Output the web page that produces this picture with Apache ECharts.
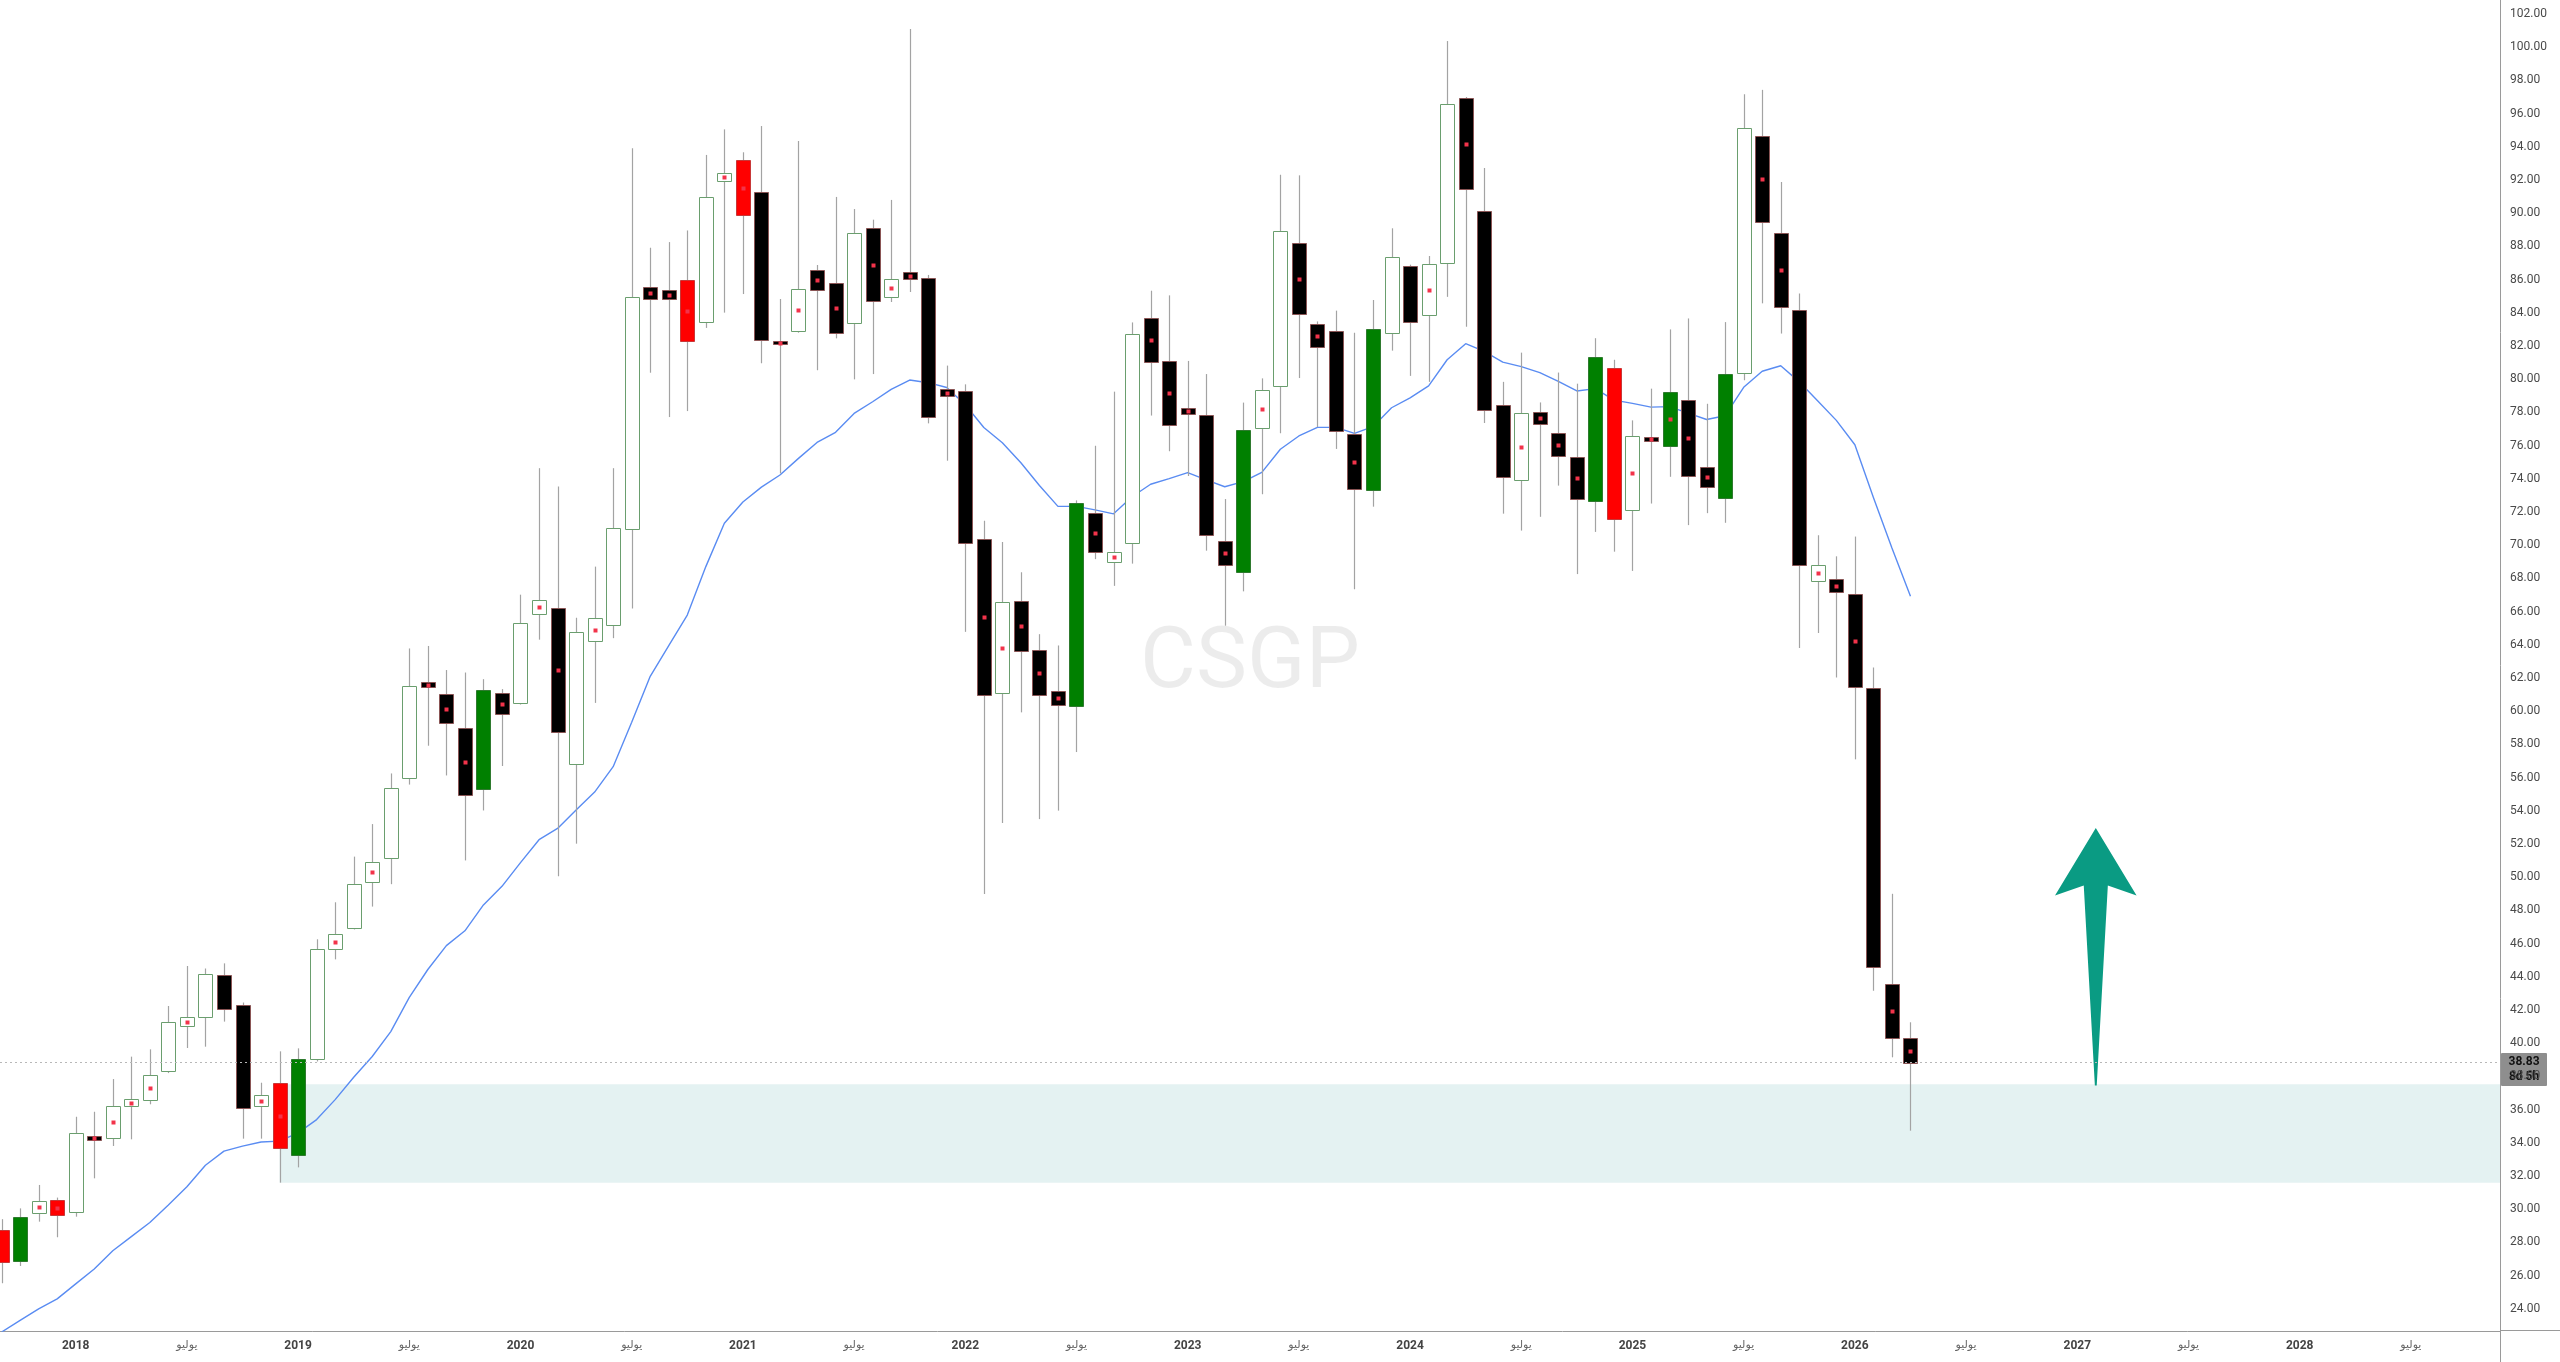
<!DOCTYPE html>
<html><head><meta charset="utf-8">
<script src="https://cdn.jsdelivr.net/npm/echarts@6/dist/echarts.min.js"></script>
<style>html,body{margin:0;padding:0;background:#fff}#c{width:2560px;height:1362px}</style>
</head><body><div id="c"></div><script>
// ---- data ----
const months = [
 '2017-09','2017-10','2017-11','2017-12',
 '2018-01','2018-02','2018-03','2018-04','2018-05','2018-06','2018-07','2018-08','2018-09','2018-10','2018-11','2018-12',
 '2019-01','2019-02','2019-03','2019-04','2019-05','2019-06','2019-07','2019-08','2019-09','2019-10','2019-11','2019-12',
 '2020-01','2020-02','2020-03','2020-04','2020-05','2020-06','2020-07','2020-08','2020-09','2020-10','2020-11','2020-12',
 '2021-01','2021-02','2021-03','2021-04','2021-05','2021-06','2021-07','2021-08','2021-09','2021-10','2021-11','2021-12',
 '2022-01','2022-02','2022-03','2022-04','2022-05','2022-06','2022-07','2022-08','2022-09','2022-10','2022-11','2022-12',
 '2023-01','2023-02','2023-03','2023-04','2023-05','2023-06','2023-07','2023-08','2023-09','2023-10','2023-11','2023-12',
 '2024-01','2024-02','2024-03','2024-04','2024-05','2024-06','2024-07','2024-08','2024-09','2024-10','2024-11','2024-12',
 '2025-01','2025-02','2025-03','2025-04','2025-05','2025-06','2025-07','2025-08','2025-09','2025-10','2025-11','2025-12',
 '2026-01','2026-02','2026-03','2026-04'
];
const opens = [
 28.75,26.9,29.77,30.54,
 29.81,34.43,34.27,36.22,36.6,38.3,41.04,41.58,44.13,42.3,36.2,37.6,
 33.25,39.03,45.7,46.92,49.69,51.16,56.0,61.75,61.01,58.99,55.29,61.1,
 60.47,65.85,66.19,56.81,64.25,65.2,70.98,85.58,85.37,85.98,83.43,91.95,
 93.19,91.26,82.3,82.92,86.56,85.78,83.39,89.09,84.95,86.48,86.1,79.39,
 79.28,70.39,61.09,66.66,63.69,61.19,60.3,71.93,68.99,70.15,83.69,81.09,
 78.25,77.83,70.25,68.39,77.04,79.57,88.23,83.34,82.89,76.7,73.33,82.76,
 86.81,83.85,86.98,96.94,90.13,78.46,73.9,78.05,76.77,75.34,72.68,80.67,
 72.13,76.5,75.97,78.74,74.73,72.85,80.37,94.64,88.81,84.16,67.84,67.95,
 67.06,61.4,43.55,40.33
];
const highs = [
 29.4,30.05,31.46,30.7,
 35.57,35.87,37.84,39.19,39.63,42.24,44.65,44.5,44.81,42.45,37.62,39.51,
 39.69,46.26,48.49,51.24,53.2,56.25,63.78,63.93,62.48,62.33,61.93,61.33,
 67.02,74.64,73.54,65.63,68.71,74.64,93.91,87.92,88.26,88.96,93.51,95.05,
 93.67,95.25,84.83,94.35,86.88,90.98,90.25,89.61,90.8,101.1,86.28,80.82,
 79.69,71.48,70.19,68.37,64.64,63.96,72.7,75.99,79.25,83.42,85.33,85.05,
 81.1,80.31,72.78,78.59,80.05,92.32,92.28,83.48,84.13,82.8,84.77,89.09,
 86.9,87.42,100.37,97.0,92.73,79.84,81.6,78.6,80.4,79.73,82.47,81.17,
 77.52,79.43,83.0,83.66,78.52,83.44,97.16,97.43,91.88,85.16,70.6,69.33,
 70.52,62.64,49.0,41.26
];
const lows = [
 25.54,26.58,29.25,28.31,
 29.55,31.86,33.81,34.21,36.32,38.2,39.71,39.79,41.3,34.25,34.25,31.6,
 32.52,38.9,45.05,46.85,48.23,49.58,55.58,57.92,56.13,51.01,54.02,56.7,
 60.4,64.31,50.05,52.02,60.5,64.4,66.19,80.39,77.72,78.08,83.09,84.01,
 85.13,80.96,74.33,82.8,80.54,82.46,79.99,80.31,84.65,85.25,77.34,75.09,
 64.78,48.99,53.26,59.93,53.5,54.01,57.54,69.16,67.55,68.89,77.81,75.66,
 74.17,69.67,65.15,67.22,73.07,76.75,80.07,77.12,75.8,67.34,72.32,81.72,
 80.2,79.84,84.96,83.16,77.36,71.9,70.88,71.71,73.59,68.26,70.8,69.61,
 68.45,72.51,74.12,71.21,71.93,71.35,79.93,84.57,82.75,63.8,64.71,62.03,
 57.1,43.16,39.15,34.73
];
const closes = [
 26.8,29.51,30.49,29.66,
 34.57,34.17,36.24,36.66,38.06,41.26,41.56,44.19,42.06,36.1,36.9,33.71,
 39.03,45.7,46.6,49.61,50.94,55.36,61.52,61.46,59.3,54.93,61.26,59.81,
 65.3,66.71,58.72,64.78,65.63,71.01,84.94,84.81,84.84,82.33,91.0,92.4,
 89.91,82.34,82.14,85.41,85.35,82.78,88.83,84.73,86.02,86.02,77.74,78.99,
 70.15,60.99,66.6,63.62,60.95,60.37,72.54,69.6,69.6,82.73,81.02,77.26,
 77.89,70.61,68.81,76.92,79.35,88.95,83.93,81.96,76.88,73.37,83.01,87.34,
 83.44,86.95,96.58,91.46,78.16,74.12,77.94,77.3,75.39,72.79,81.31,71.57,
 76.55,76.25,79.21,74.17,73.51,80.34,95.14,89.47,84.35,68.78,68.78,67.2,
 61.48,44.61,40.3,38.83
];
// w = hollow, k = black, r = red, g = green
const kinds = [
 'r','g','w','r',
 'w','k','w','w','w','w','w','w','k','k','w','r',
 'g','w','w','w','w','w','w','k','k','k','g','k',
 'w','w','k','w','w','w','w','k','k','r','w','w',
 'r','k','k','w','k','k','w','k','w','k','k','k',
 'k','k','w','k','k','k','g','k','w','w','k','k',
 'k','k','k','g','w','w','k','k','k','k','g','w',
 'k','w','w','k','k','k','w','k','k','k','g','r',
 'w','k','g','k','k','g','w','k','k','k','w','k',
 'k','k','k','k'
];
const dots = [
 0,0,1,1,
 0,1,1,1,1,0,1,0,0,0,1,1,
 0,0,1,0,1,0,0,1,1,1,0,1,
 0,1,1,0,1,0,0,1,1,1,0,1,
 1,0,1,1,1,1,0,1,1,1,0,1,
 0,1,1,1,1,1,0,1,1,0,1,1,
 1,0,1,0,1,0,1,1,0,1,0,0,
 0,1,0,1,0,0,1,1,1,1,0,0,
 1,1,1,1,1,0,0,1,1,0,1,1,
 1,0,1,1
];
const maValues = [
 22.6,23.3,24.0,24.6,
 25.5,26.4,27.5,28.35,29.2,30.25,31.35,32.65,33.5,33.8,34.05,34.1,
 34.6,35.4,36.6,37.95,39.2,40.7,42.76,44.44,45.88,46.77,48.33,49.45,
 50.88,52.26,52.94,54.05,55.13,56.66,59.34,62.1,63.95,65.79,68.71,71.32,
 72.6,73.5,74.23,75.23,76.19,76.8,77.94,78.64,79.39,79.95,79.79,79.5,
 78.46,77.09,76.17,74.97,73.6,72.34,72.34,72.13,71.89,72.92,73.67,74.01,
 74.37,73.93,73.52,73.83,74.39,75.78,76.58,77.1,77.1,76.74,77.14,78.28,
 78.87,79.6,81.17,82.14,81.67,81.03,80.76,80.4,79.87,79.29,79.43,78.74,
 78.54,78.32,78.35,77.96,77.57,77.8,79.51,80.48,80.81,79.84,78.68,77.52,
 76.05,72.87,69.83,66.93
];
const yTickValues = [24,26,28,30,32,34,36,38,40,42,44,46,48,50,52,54,56,58,60,62,64,66,68,70,72,74,76,78,80,82,84,86,88,90,92,94,96,98,100,102];
const xTickMonths = ['2018-01','2018-07','2019-01','2019-07','2020-01','2020-07','2021-01','2021-07','2022-01','2022-07','2023-01','2023-07','2024-01','2024-07','2025-01','2025-07','2026-01','2026-07','2027-01','2027-07','2028-01','2028-07'];
const monthLabel = 'يوليو';
const zoneStart = '2018-12', zoneLow = 31.6, zoneHigh = 37.52;
const arrowMonth = '2027-02';
const arrowPrices = {tip: 52.96, headBase: 48.9, shaftTop: 49.5, bottom: 37.45};
const ticker = 'CSGP';
const countdown = '8d 5h';

// ---- helpers ----
function mIdx(s){ const [y,m] = s.split('-').map(Number); return (y-2018)*12 + (m-1); }
const X_MIN = -4.085, X_MAX = 130.81, Y_MIN = 22.663, Y_MAX = 102.843;
const KIND_STYLE = {
  w:{fill:'#ffffff', stroke:'#6a9e6e'},
  k:{fill:'#000000', stroke:'#8a5555'},
  r:{fill:'#ff0000', stroke:'#c83838'},
  g:{fill:'#008000', stroke:'#2f7a2f'}
};
const candleData = months.map((m,i)=>[mIdx(m), opens[i], closes[i], lows[i], highs[i]]);
const maData = months.map((m,i)=>[mIdx(m), maValues[i]]);
const lastClose = closes[closes.length-1];
const arrowX = mIdx(arrowMonth);

const chart = echarts.init(document.getElementById('c'), null, {renderer:'canvas'});
const FONT = 'Roboto, "DejaVu Sans", sans-serif';
chart.setOption({
  animation:false,
  backgroundColor:'#ffffff',
  grid:{left:0, right:60, top:0, bottom:31},
  xAxis:{
    type:'value', min:X_MIN, max:X_MAX,
    axisLine:{show:true, onZero:false, lineStyle:{color:'#9a9a9a', width:1}},
    axisTick:{show:false}, splitLine:{show:false},
    axisLabel:{
      customValues: xTickMonths.map(mIdx),
      margin:9, fontFamily:FONT,
      formatter:(v)=>{ const r = ((v%12)+12)%12; return r===0 ? '{y|'+(2018+Math.round(v/12))+'}' : '{m|'+monthLabel+'}'; },
      rich:{ y:{fontSize:12, fontWeight:'bold', color:'#444', fontFamily:FONT}, m:{fontSize:11, color:'#666', fontFamily:'"DejaVu Sans", sans-serif'} }
    }
  },
  yAxis:{
    type:'value', position:'right', min:Y_MIN, max:Y_MAX, scale:true,
    axisLine:{show:true, onZero:false, lineStyle:{color:'#9a9a9a', width:1}},
    axisTick:{show:false}, splitLine:{show:false},
    axisLabel:{customValues:yTickValues, formatter:(v)=>v.toFixed(2), color:'#4a4a4a', fontSize:12, fontFamily:FONT, margin:10}
  },
  series:[
    { // demand zone
      type:'custom', z:1, silent:true, clip:true,
      data:[[mIdx(zoneStart), zoneLow, zoneHigh]],
      renderItem:(params, api)=>{
        const p1 = api.coord([api.value(0), api.value(2)]);
        const p2 = api.coord([api.value(0), api.value(1)]);
        const right = params.coordSys.x + params.coordSys.width;
        return {type:'rect', shape:{x:p1[0], y:p1[1], width:right-p1[0], height:p2[1]-p1[1]}, style:{fill:'#e4f2f2'}};
      }
    },
    { // moving average
      type:'line', z:2, data:maData, showSymbol:false, silent:true,
      lineStyle:{color:'#5a8cf2', width:1.4}, clip:true,
      markLine:{silent:true, symbol:'none', animation:false,
        data:[{yAxis:lastClose}],
        lineStyle:{type:[2,3], color:'#b8b8b8', width:1},
        label:{show:false}}
    },
    { // candles
      type:'custom', z:3, silent:true, clip:true,
      data:candleData,
      encode:{x:0, y:[1,2,3,4]},
      renderItem:(params, api)=>{
        const i = params.dataIndex;
        const x = api.value(0);
        const po = api.coord([x, api.value(1)]), pc = api.coord([x, api.value(2)]);
        const pl = api.coord([x, api.value(3)]), ph = api.coord([x, api.value(4)]);
        const bw = Math.round(api.size([1,0])[0]*0.755);
        const cx = Math.round(po[0]);
        const top = Math.round(Math.min(po[1], pc[1])), bot = Math.round(Math.max(po[1], pc[1]));
        const st = KIND_STYLE[kinds[i]];
        const ch = [
          {type:'line', shape:{x1:cx+0.5, y1:ph[1], x2:cx+0.5, y2:pl[1]}, style:{stroke:'#a3a3a3', lineWidth:1.2}},
          {type:'rect', shape:{x:cx - Math.floor(bw/2) + 0.5, y:top+0.5, width:bw, height:Math.max(bot-top,2)}, style:{fill:st.fill, stroke:st.stroke, lineWidth:1}}
        ];
        if (dots[i]) ch.push({type:'rect', shape:{x:cx-1.5, y:Math.round((top+bot)/2)-1.5, width:4, height:4}, style:{fill:'#f2334a'}});
        return {type:'group', children:ch};
      }
    },
    { // arrow annotation
      type:'custom', z:4, silent:true,
      data:[[arrowX, arrowPrices.tip, arrowPrices.headBase, arrowPrices.shaftTop, arrowPrices.bottom]],
      renderItem:(params, api)=>{
        const x = api.value(0);
        const tip = api.coord([x, api.value(1)]);
        const hb = api.coord([x, api.value(2)]);
        const st = api.coord([x, api.value(3)]);
        const bt = api.coord([x, api.value(4)]);
        const u = api.size([1,0])[0];
        const pts = [
          [tip[0], tip[1]],
          [tip[0]+2.2*u, hb[1]],
          [tip[0]+0.65*u, st[1]],
          [bt[0]+0.05*u, bt[1]],
          [bt[0]-0.05*u, bt[1]],
          [tip[0]-0.65*u, st[1]],
          [tip[0]-2.2*u, hb[1]]
        ];
        return {type:'polygon', shape:{points:pts}, style:{fill:'#0a9b83'}};
      }
    }
  ]
});

// overlay: watermark, price tag, axis extensions
const py = chart.convertToPixel({yAxisIndex:0}, lastClose);
chart.setOption({
  graphic:[
    {type:'text', z:0, silent:true, x:1250, y:665, style:{text:ticker, font:'normal 86px Roboto, "DejaVu Sans", sans-serif', fill:'rgba(0,0,0,0.075)', align:'center', verticalAlign:'middle'}},
    {type:'line', silent:true, shape:{x1:2500, y1:1330.5, x2:2560, y2:1330.5}, style:{stroke:'#9a9a9a', lineWidth:1}},
    {type:'line', silent:true, shape:{x1:2500.5, y1:1331, x2:2500.5, y2:1362}, style:{stroke:'#9a9a9a', lineWidth:1}},
    {type:'group', z:100, x:2501, y:Math.round(py)-10, children:[
      {type:'rect', shape:{x:0, y:0, width:46, height:33, r:1}, style:{fill:'#8e8e8e'}},
      {type:'text', x:23, y:9, style:{text:lastClose.toFixed(2), font:'bold 12px Roboto, sans-serif', fill:'#111', align:'center', verticalAlign:'middle'}},
      {type:'text', x:23, y:24, style:{text:countdown, font:'bold 12px Roboto, sans-serif', fill:'#111', align:'center', verticalAlign:'middle'}}
    ]}
  ]
});
</script></body></html>
